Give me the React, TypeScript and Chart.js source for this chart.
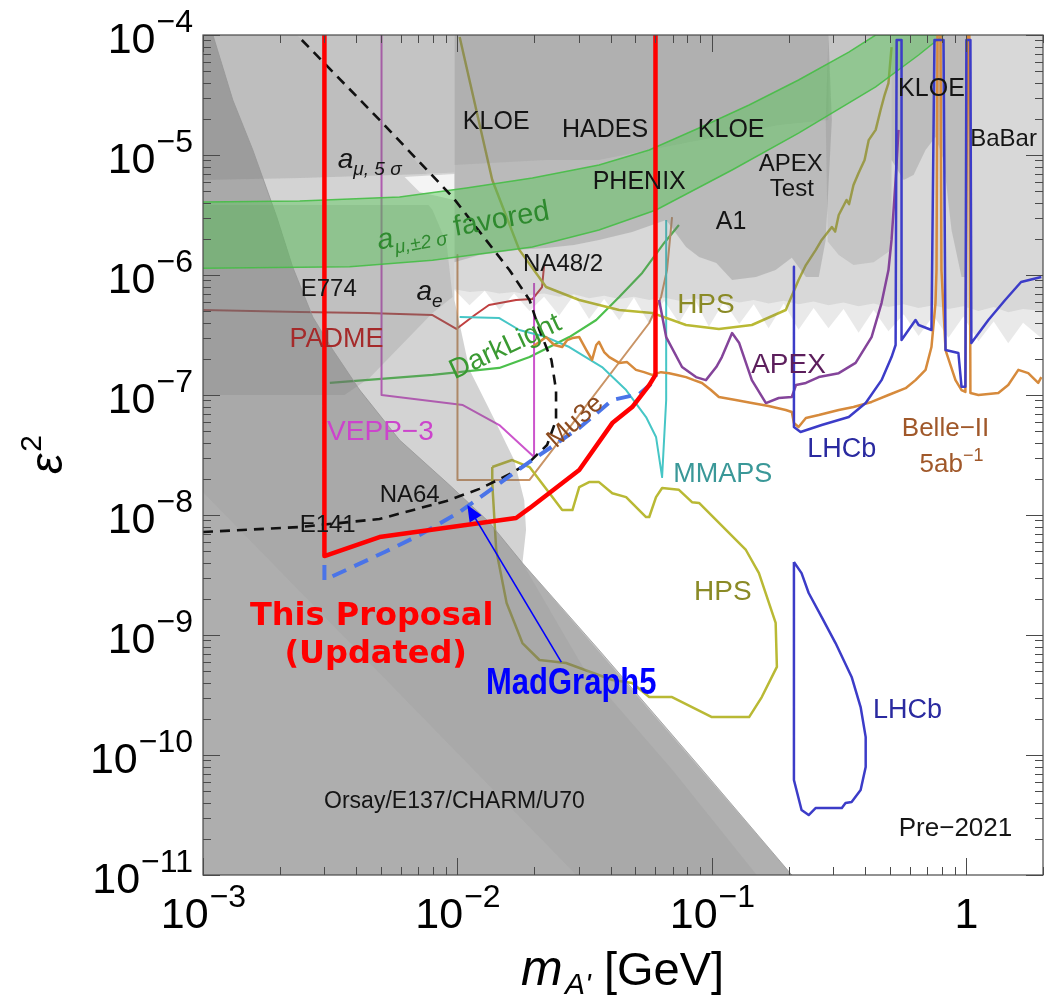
import React, { useEffect, useRef } from "react";
import { Chart, registerables } from "chart.js";

Chart.register(...registerables);

const FONT = '"Liberation Sans", Arial, Helvetica, sans-serif';

// ---------------- axis ----------------
const xMin = 1e-3;
const xMax = 2.0;
const yMin = 1e-11;
const yMax = 1e-4;
const xTickValues = [1e-3, 1e-2, 1e-1, 1];
const xTickBase = ["10", "10", "10", "1"];
const xTickExp = ["\u22123", "\u22122", "\u22121", ""];
const yTickValues = [1e-4, 1e-5, 1e-6, 1e-7, 1e-8, 1e-9, 1e-10, 1e-11];
const yTickExp = ["\u22124", "\u22125", "\u22126", "\u22127", "\u22128", "\u22129", "\u221210", "\u221211"];

// ---------------- projections (curves) ----------------
const proposalMass = [3.0e-3, 3.0e-3, 4.94e-3, 1.70e-2, 1.92e-2, 3.01e-2, 4.06e-2, 4.86e-2, 5.67e-2, 6.0e-2, 6.0e-2];
const proposalEps2 = [1e-4, 4.55e-9, 6.55e-9, 9.44e-9, 1.14e-8, 2.37e-8, 5.83e-8, 7.94e-8, 1.21e-7, 1.47e-7, 1e-4];

const madgraphMass = [3.0e-3, 3.0e-3, 5.18e-3, 7.10e-3, 1.02e-2, 1.92e-2, 3.01e-2, 4.06e-2, 5.18e-2, 6.0e-2, 6.0e-2];
const madgraphEps2 = [3.83e-9, 2.87e-9, 4.92e-9, 6.81e-9, 1.06e-8, 2.77e-8, 5.31e-8, 9.09e-8, 1.02e-7, 1.33e-7, 1.47e-7];

const amuNa64Mass = [1e-3, 2.40e-3, 4.94e-3, 9.06e-3, 1.22e-2, 1.64e-2, 1.92e-2, 2.25e-2, 2.44e-2, 2.44e-2, 2.34e-2, 2.10e-2, 1.92e-2, 1.60e-2, 9.57e-3, 4.94e-3, 2.34e-3];
const amuNa64Eps2 = [7.22e-9, 7.94e-9, 9.26e-9, 1.31e-8, 1.65e-8, 2.24e-8, 2.77e-8, 3.83e-8, 6.19e-8, 1.10e-7, 1.96e-7, 3.48e-7, 6.19e-7, 1.10e-6, 4.47e-6, 1.96e-5, 1e-4];

const padmeMass = [1e-3, 2.40e-3, 4.40e-3, 7.98e-3, 9.9e-3, 1.17e-2, 1.33e-2, 1.70e-2, 1.97e-2, 2.15e-2, 2.19e-2];
const padmeEps2 = [5.11e-7, 4.92e-7, 4.83e-7, 4.64e-7, 3.55e-7, 4.64e-7, 5.62e-7, 6.19e-7, 6.3e-7, 7.94e-7, 1.21e-6];

const darkLightMass = [3.15e-3, 7.98e-3, 1.46e-2, 1.92e-2, 2.75e-2, 3.51e-2, 4.32e-2, 5.32e-2, 6.49e-2, 7.42e-2];
const darkLightEps2 = [1.26e-7, 1.47e-7, 1.68e-7, 2.07e-7, 3.04e-7, 4.22e-7, 6.55e-7, 1.04e-6, 1.85e-6, 2.61e-6];

const vepp3Mass = [5.03e-3, 5.03e-3, 1.05e-2, 1.46e-2, 2.0e-2, 2.0e-2];
const vepp3Eps2 = [1e-4, 1e-7, 8.25e-8, 5.62e-8, 3.04e-8, 8.57e-7];

const mu3eMass = [1e-2, 1e-2, 1.92e-2, 5.67e-2, 6.31e-2, 6.66e-2, 6.97e-2];
const mu3eEps2 = [1.47e-6, 1.96e-8, 1.96e-8, 3.98e-7, 6.55e-7, 1.10e-6, 3.04e-6];

const mmapsMass = [1.02e-2, 1.46e-2, 1.75e-2, 2.23e-2, 2.75e-2, 3.70e-2, 4.60e-2, 5.51e-2, 6.03e-2, 6.37e-2, 6.61e-2, 6.61e-2];
const mmapsEps2 = [4.47e-7, 4.38e-7, 3.48e-7, 3.04e-7, 2.51e-7, 1.71e-7, 1.10e-7, 6.55e-8, 4.47e-8, 2.07e-8, 9.09e-8, 2.87e-6];

const hpsUpperMass = [1.02e-2, 1.37e-2, 1.75e-2, 2.23e-2, 3.01e-2, 4.32e-2, 5.82e-2, 7.91e-2, 1.065e-1, 1.435e-1, 1.95e-1, 2.19e-1, 2.34e-1, 2.56e-1, 2.70e-1, 2.96e-1, 3.05e-1, 3.15e-1, 3.38e-1, 3.46e-1, 3.60e-1, 3.77e-1, 3.98e-1, 4.13e-1, 4.40e-1, 4.60e-1, 4.77e-1, 4.94e-1, 5.08e-1];
const hpsUpperEps2 = [9.62e-5, 6.19e-6, 1.62e-6, 7.94e-7, 6.19e-7, 5.11e-7, 4.83e-7, 3.83e-7, 3.55e-7, 3.83e-7, 5.11e-7, 9.09e-7, 1.21e-6, 1.62e-6, 1.96e-6, 2.51e-6, 2.30e-6, 3.16e-6, 4.22e-6, 3.90e-6, 5.62e-6, 7.08e-6, 9.09e-6, 1.33e-5, 1.62e-5, 2.37e-5, 3.16e-5, 3.98e-5, 7.94e-5];

const hpsLowerMass = [1.37e-2, 1.64e-2, 1.92e-2, 2.36e-2, 2.58e-2, 2.83e-2, 3.01e-2, 3.29e-2, 3.60e-2, 4.06e-2, 4.60e-2, 5.51e-2, 5.67e-2, 6.03e-2, 6.37e-2, 7.42e-2, 8.35e-2, 8.9e-2, 1.36e-1, 1.53e-1, 1.78e-1, 1.80e-1, 1.57e-1, 1.40e-1, 1.0e-1, 8.35e-2, 6.97e-2, 5.67e-2, 4.86e-2, 4.06e-2, 2.67e-2, 2.10e-2, 1.80e-2, 1.56e-2, 1.42e-2, 1.37e-2, 1.37e-2];
const hpsLowerEps2 = [2.51e-8, 2.87e-8, 2.51e-8, 1.41e-8, 1.10e-8, 1.10e-8, 1.71e-8, 1.88e-8, 1.88e-8, 1.52e-8, 1.41e-8, 9.62e-9, 9.62e-9, 1.41e-8, 1.68e-8, 1.62e-8, 1.28e-8, 1.26e-8, 5.11e-9, 3.28e-9, 1.26e-9, 5.42e-10, 3.04e-10, 2.07e-10, 2.07e-10, 2.51e-10, 3.04e-10, 3.04e-10, 3.98e-10, 4.22e-10, 5.84e-10, 6.19e-10, 8.57e-10, 1.85e-9, 5.11e-9, 1.85e-8, 2.51e-8];

const apexMass = [6.20e-2, 6.61e-2, 7.63e-2, 8.66e-2, 9.47e-2, 1.04e-1, 1.094e-1, 1.20e-1, 1.28e-1, 1.435e-1, 1.63e-1, 1.83e-1, 2.06e-1, 2.14e-1, 2.34e-1, 2.63e-1, 3.15e-1, 3.67e-1, 4.24e-1, 4.64e-1, 4.94e-1, 5.08e-1, 5.27e-1, 5.41e-1];
const apexEps2 = [6.19e-7, 3.04e-7, 1.71e-7, 1.41e-7, 1.33e-7, 1.71e-7, 2.07e-7, 3.28e-7, 2.71e-7, 1.33e-7, 8.57e-8, 9.44e-8, 9.62e-8, 1.21e-7, 1.26e-7, 1.41e-7, 1.52e-7, 1.85e-7, 3.04e-7, 5.84e-7, 1.10e-6, 1.96e-6, 6.19e-6, 1.62e-5];

const belleMass = [1.97e-2, 2.23e-2, 2.40e-2, 2.58e-2, 2.70e-2, 2.83e-2, 3.01e-2, 3.21e-2, 3.38e-2, 3.51e-2, 3.60e-2, 3.77e-2, 3.95e-2, 4.32e-2, 4.64e-2, 5.03e-2, 5.41e-2, 5.82e-2, 6.31e-2, 6.79e-2, 7.29e-2, 7.91e-2, 8.50e-2, 9.14e-2, 9.91e-2, 1.065e-1, 1.24e-1, 1.435e-1, 1.67e-1, 1.95e-1, 2.06e-1, 2.10e-1, 2.19e-1, 2.34e-1, 2.63e-1, 3.15e-1, 3.60e-1, 4.24e-1, 4.94e-1, 5.77e-1, 6.31e-1, 6.91e-1, 7.29e-1, 7.56e-1, 7.63e-1, 7.70e-1, 7.91e-1, 7.98e-1, 8.28e-1, 9.06e-1, 9.57e-1, 9.91e-1, 1.009, 1.027, 1.037, 1.115, 1.335, 1.46, 1.60, 1.75, 1.915, 1.97];
const belleEps2 = [2.51e-7, 3.04e-7, 2.61e-7, 2.51e-7, 2.87e-7, 2.98e-7, 3.04e-7, 2.37e-7, 1.96e-7, 2.61e-7, 2.77e-7, 2.28e-7, 2.07e-7, 1.85e-7, 1.88e-7, 1.62e-7, 1.55e-7, 1.47e-7, 1.55e-7, 1.52e-7, 1.47e-7, 1.41e-7, 1.33e-7, 1.26e-7, 1.10e-7, 9.62e-8, 9.09e-8, 8.57e-8, 8.09e-8, 7.50e-8, 7.22e-8, 5.84e-8, 5.42e-8, 6.44e-8, 6.81e-8, 7.50e-8, 7.94e-8, 8.75e-8, 1e-7, 1.14e-7, 1.33e-7, 1.62e-7, 2.51e-7, 5.84e-7, 1.10e-6, 1e-4, 1e-4, 1.10e-6, 2.37e-7, 1.33e-7, 1.10e-7, 1.06e-7, 1e-4, 1e-4, 1.04e-7, 1e-7, 1.04e-7, 1.21e-7, 1.62e-7, 1.52e-7, 1.26e-7, 1.41e-7];

const lhcbPromptMass = [2.10e-1, 2.10e-1, 2.23e-1, 2.70e-1, 3.45e-1, 4.02e-1, 4.64e-1, 5.08e-1, 5.27e-1, 5.32e-1, 5.56e-1, 5.56e-1, 6.31e-1, 6.49e-1, 7.29e-1, 7.49e-1, 8.13e-1, 8.28e-1, 9.30e-1, 9.57e-1, 9.91e-1, 1.0, 1.037, 1.046, 1.22, 1.42, 1.64, 1.97];
const lhcbPromptEps2 = [1.17e-6, 5.42e-8, 4.92e-8, 5.62e-8, 6.55e-8, 8.57e-8, 1.33e-7, 2.07e-7, 2.61e-7, 9.09e-5, 9.09e-5, 2.87e-7, 4.22e-7, 3.83e-7, 3.48e-7, 9.09e-5, 9.09e-5, 2.37e-7, 2.24e-7, 1.17e-7, 1.17e-7, 9.09e-5, 9.09e-5, 2.71e-7, 4.22e-7, 6.19e-7, 8.75e-7, 9.62e-7];

const lhcbDisplacedMass = [2.10e-1, 2.25e-1, 2.40e-1, 2.70e-1, 3.06e-1, 3.54e-1, 3.84e-1, 4.02e-1, 4.02e-1, 3.84e-1, 3.54e-1, 3.35e-1, 3.24e-1, 2.56e-1, 2.40e-1, 2.25e-1, 2.10e-1, 2.10e-1];
const lhcbDisplacedEps2 = [4.06e-9, 3.28e-9, 2.24e-9, 1.41e-9, 8.57e-10, 4.47e-10, 2.51e-10, 1.41e-10, 7.94e-11, 5.11e-11, 4.06e-11, 3.98e-11, 3.62e-11, 3.62e-11, 3.16e-11, 3.48e-11, 6.19e-11, 4.06e-9];

// a_mu +-2 sigma favoured band
const amuBandUpperMass = [1e-3, 2.40e-3, 5.92e-3, 1.085e-2, 1.97e-2, 3.60e-2, 5.67e-2, 8.9e-2, 1.40e-1, 2.19e-1, 3.45e-1, 4.40e-1];
const amuBandUpperEps2 = [4.06e-6, 4.14e-6, 4.47e-6, 5.31e-6, 6.44e-6, 8.25e-6, 1.10e-5, 1.68e-5, 2.61e-5, 4.22e-5, 7.2e-5, 1e-4];
const amuBandLowerMass = [8.13e-1, 6.49e-1, 4.40e-1, 2.19e-1, 1.20e-1, 6.03e-2, 3.60e-2, 1.97e-2, 7.98e-3, 3.77e-3, 1e-3];
const amuBandLowerEps2 = [1e-4, 6.81e-5, 3.69e-5, 1.52e-5, 7.5e-6, 3.48e-6, 2.37e-6, 1.71e-6, 1.33e-6, 1.17e-6, 1.14e-6];

// ---------------- excluded regions (gray) ----------------
const lightLeftMass = [1e-3, 9.73e-3, 9.73e-3, 6.2e-3, 7.10e-3, 9.73e-3, 9.73e-3, 1.115e-2, 1.40e-2, 1.67e-2, 1.83e-2, 1.86e-2, 1.80e-2, 2.06e-1, 1e-3];
const lightLeftEps2 = [1e-4, 1e-4, 6.94e-6, 6.55e-6, 4.92e-6, 4.22e-6, 6.19e-7, 1.62e-7, 6.19e-8, 2.87e-8, 1.33e-8, 7.5e-9, 3.98e-9, 1e-11, 1e-11];

const pocketMass = [6.2e-3, 9.73e-3, 9.73e-3, 7.10e-3];
const pocketEps2 = [6.55e-6, 6.94e-6, 4.22e-6, 4.92e-6];

const amu5Mass = [1e-3, 9.73e-3, 9.73e-3, 7.10e-3, 2.40e-3, 1e-3];
const amu5Eps2 = [1e-4, 1e-4, 7.15e-6, 6.94e-6, 6.44e-6, 6.19e-6];

const amu5LeftMass = [1e-3, 2.34e-3, 4.94e-3, 7.6e-3, 2.40e-3, 1e-3];
const amu5LeftEps2 = [1e-4, 1e-4, 1.96e-5, 6.9e-6, 6.44e-6, 6.19e-6];

const aeE774Mass = [1e-3, 7.70e-3, 7.98e-3, 9.06e-3, 9.57e-3, 7.98e-3, 5.92e-3, 4.52e-3, 3.60e-3, 1e-3];
const aeE774Eps2 = [3.83e-6, 3.83e-6, 3.48e-6, 1.85e-6, 6.55e-7, 4.83e-7, 2.51e-7, 1.39e-7, 1e-7, 1e-7];

const beamDumpMass = [1e-3, 1e-3, 1.094e-3, 1.31e-3, 1.57e-3, 1.95e-3, 2.25e-3, 2.70e-3, 3.24e-3, 4.13e-3, 5.92e-3, 9.30e-3, 1.33e-2, 1.80e-2, 3.60e-2, 8.9e-2, 2.06e-1];
const beamDumpEps2 = [1e-11, 1e-4, 1e-4, 2.87e-5, 1.10e-5, 3.04e-6, 1.17e-6, 4.47e-7, 2.37e-7, 1.10e-7, 4.22e-8, 1.78e-8, 8.75e-9, 3.98e-9, 7.5e-10, 8.09e-11, 1e-11];

const beamDumpInnerMass = [1e-3, 2.93e-2, 1e-3];
const beamDumpInnerEps2 = [1.55e-8, 1e-11, 1e-11];

const beamDumpEdgeMass = [1.80e-2, 3.60e-2, 8.9e-2, 2.06e-1, 1.50e-1, 7.0e-2, 3.1e-2];
const beamDumpEdgeEps2 = [3.98e-9, 7.5e-10, 8.09e-11, 1e-11, 1e-11, 7.5e-11, 5.5e-10];

const resonanceTopMass = [9.73e-3, 2.0];
const resonanceTopEps2 = [1e-4, 1e-4];
const resonanceEdgeMass = [9.73e-3, 1.115e-2, 1.28e-2, 1.46e-2, 1.67e-2, 1.92e-2, 2.19e-2, 2.51e-2, 2.87e-2, 3.29e-2, 3.77e-2, 4.32e-2, 4.94e-2, 5.67e-2, 6.49e-2, 7.42e-2, 8.50e-2, 9.73e-2, 1.115e-1, 1.28e-1, 1.46e-1, 1.67e-1, 1.915e-1, 2.19e-1, 2.51e-1, 2.87e-1, 3.29e-1, 3.77e-1, 4.32e-1, 4.94e-1, 5.67e-1, 6.49e-1, 7.42e-1, 8.50e-1, 9.73e-1, 1.115, 1.28, 1.46, 1.67, 2.0];
const resonanceSpikeEps2 = [7.5e-7, 5.6e-7, 7.4e-7, 5.1e-7, 7.0e-7, 5.0e-7, 6.6e-7, 4.6e-7, 6.8e-7, 4.3e-7, 6.3e-7, 4.2e-7, 6.5e-7, 3.9e-7, 6.1e-7, 4.0e-7, 6.4e-7, 3.7e-7, 6.0e-7, 3.9e-7, 5.7e-7, 3.6e-7, 5.8e-7, 3.5e-7, 5.3e-7, 3.6e-7, 5.2e-7, 3.3e-7, 5.1e-7, 3.4e-7, 4.7e-7, 3.1e-7, 4.6e-7, 3.0e-7, 4.5e-7, 2.8e-7, 4.1e-7, 2.7e-7, 4.0e-7, 2.9e-7];
const resonanceCoreEps2 = [7.6e-7, 7.2e-7, 7.4e-7, 7.0e-7, 7.2e-7, 6.8e-7, 7.0e-7, 6.6e-7, 6.9e-7, 6.4e-7, 6.7e-7, 6.3e-7, 6.6e-7, 6.2e-7, 6.5e-7, 6.1e-7, 6.4e-7, 6.0e-7, 6.3e-7, 5.9e-7, 6.2e-7, 5.8e-7, 6.1e-7, 5.7e-7, 6.0e-7, 5.6e-7, 5.9e-7, 5.5e-7, 5.8e-7, 5.4e-7, 5.7e-7, 5.3e-7, 5.6e-7, 5.2e-7, 5.5e-7, 5.0e-7, 5.4e-7, 4.9e-7, 5.2e-7, 5.0e-7];

const a1Na48Mass = [9.73e-3, 2.87e-1, 2.96e-1, 2.80e-1, 2.63e-1, 2.34e-1, 2.06e-1, 1.78e-1, 1.49e-1, 1.20e-1, 1.04e-1, 8.9e-2, 7.91e-2, 6.61e-2, 4.86e-2, 3.60e-2, 2.87e-2, 2.23e-2, 1.75e-2, 1.22e-2, 9.73e-3];
const a1Na48Eps2 = [1e-4, 1e-4, 1.96e-5, 1.96e-6, 9.62e-7, 9.62e-7, 1.39e-6, 1.10e-6, 9.62e-7, 9.09e-7, 1.26e-6, 1.41e-6, 1.71e-6, 2.87e-6, 2.28e-6, 1.96e-6, 1.78e-6, 1.68e-6, 1.62e-6, 1.47e-6, 1.28e-6];

const kloeHadesMass = [9.73e-3, 2.87e-1, 2.87e-1, 1.83e-1, 8.9e-2, 5.67e-2, 3.60e-2, 2.23e-2, 9.73e-3];
const kloeHadesEps2 = [1e-4, 1e-4, 1.96e-5, 1.78e-5, 1.33e-5, 1.10e-5, 9.09e-6, 9.09e-6, 8.25e-6];

const babarLowMass = [2.87e-1, 5.08e-1, 5.08e-1, 4.32e-1, 3.60e-1, 3.15e-1, 2.85e-1, 2.80e-1];
const babarLowEps2 = [1e-4, 1e-4, 1.62e-6, 1.28e-6, 1.21e-6, 1.47e-6, 1.9e-6, 1.96e-5];

const kloeHighMass = [5.08e-1, 5.08e-1, 5.67e-1, 6.20e-1, 6.91e-1, 7.56e-1, 8.13e-1, 8.74e-1, 9.57e-1, 1.0, 1.0];
const kloeHighEps2 = [1e-4, 9.09e-6, 6.19e-6, 6.81e-6, 1.10e-5, 1.41e-5, 9.09e-6, 2.37e-6, 9.62e-7, 9.62e-7, 1e-4];

// ---------------- labels (text at data positions) ----------------
type Part = { t: string; size: number; italic?: boolean; bold?: boolean; dy?: number };
type Ann = { m: number; e: number; parts: Part[]; color: string; rot?: number; family?: string; sy?: number };

const BLACK = "#151515";
const OLIVE_T = "#8a8a26";
const labels: Ann[] = [
  { m: 1.42e-2, e: 1.96e-5, parts: [{ t: "KLOE", size: 25 }], color: BLACK },
  { m: 3.80e-2, e: 1.68e-5, parts: [{ t: "HADES", size: 25 }], color: BLACK },
  { m: 1.19e-1, e: 1.68e-5, parts: [{ t: "KLOE", size: 25 }], color: BLACK },
  { m: 5.18e-2, e: 6.19e-6, parts: [{ t: "PHENIX", size: 25 }], color: BLACK },
  { m: 2.04e-1, e: 8.75e-6, parts: [{ t: "APEX", size: 24 }], color: BLACK },
  { m: 2.06e-1, e: 5.42e-6, parts: [{ t: "Test", size: 24 }], color: BLACK },
  { m: 1.19e-1, e: 2.87e-6, parts: [{ t: "A1", size: 25 }], color: BLACK },
  { m: 7.29e-1, e: 3.69e-5, parts: [{ t: "KLOE", size: 25 }], color: BLACK },
  { m: 1.40, e: 1.41e-5, parts: [{ t: "BaBar", size: 24 }], color: BLACK },
  { m: 4.52e-3, e: 9.44e-6, parts: [{ t: "a", size: 28, italic: true }, { t: "\u03bc, 5 \u03c3", size: 19, italic: true, dy: 7 }], color: BLACK },
  { m: 1.05e-2, e: 2.66e-6, rot: -10, parts: [{ t: "a", size: 29, italic: true }, { t: "\u03bc,\u00b12 \u03c3", size: 19, italic: true, dy: 7 }, { t: " favored", size: 29 }], color: "#2f8a2f" },
  { m: 2.60e-2, e: 1.28e-6, parts: [{ t: "NA48/2", size: 24 }], color: BLACK },
  { m: 3.12e-3, e: 7.94e-7, parts: [{ t: "E774", size: 24 }], color: BLACK },
  { m: 7.77e-3, e: 7.5e-7, parts: [{ t: "a", size: 28, italic: true }, { t: "e", size: 19, italic: true, dy: 7 }], color: BLACK },
  { m: 9.47e-2, e: 5.84e-7, parts: [{ t: "HPS", size: 28 }], color: OLIVE_T },
  { m: 3.35e-3, e: 3.04e-7, parts: [{ t: "PADME", size: 27 }], color: "#a52a2a" },
  { m: 1.53e-2, e: 2.61e-7, rot: -25, parts: [{ t: "DarkLight", size: 28 }], color: "#3a9a32" },
  { m: 2.0e-1, e: 1.85e-7, parts: [{ t: "APEX", size: 28 }], color: "#5c1e5c" },
  { m: 4.98e-3, e: 5.11e-8, parts: [{ t: "VEPP\u22123", size: 28 }], color: "#cc44cc" },
  { m: 2.87e-2, e: 6.19e-8, rot: -42, parts: [{ t: "Mu3e", size: 26 }], color: "#8b4a1e" },
  { m: 3.24e-1, e: 3.69e-8, parts: [{ t: "LHCb", size: 27 }], color: "#2a2aa0" },
  { m: 8.28e-1, e: 5.42e-8, parts: [{ t: "Belle\u2212II", size: 26 }], color: "#a0582a" },
  { m: 8.74e-1, e: 2.71e-8, parts: [{ t: "5ab", size: 26 }, { t: "\u22121", size: 18, dy: -11 }], color: "#a0582a" },
  { m: 1.104e-1, e: 2.28e-8, parts: [{ t: "MMAPS", size: 27 }], color: "#3a9898" },
  { m: 6.49e-3, e: 1.52e-8, parts: [{ t: "NA64", size: 24 }], color: BLACK },
  { m: 3.09e-3, e: 8.57e-9, parts: [{ t: "E141", size: 24 }], color: BLACK },
  { m: 1.104e-1, e: 2.37e-9, parts: [{ t: "HPS", size: 28 }], color: OLIVE_T },
  { m: 5.87e-1, e: 2.46e-10, parts: [{ t: "LHCb", size: 27 }], color: "#2a2aa0" },
  { m: 4.60e-3, e: 1.52e-9, family: '"DejaVu Sans", sans-serif', parts: [{ t: "This Proposal", size: 32, bold: true }], color: "#ff0000" },
  { m: 4.77e-3, e: 7.22e-10, family: '"DejaVu Sans", sans-serif', parts: [{ t: "(Updated)", size: 32, bold: true }], color: "#ff0000" },
  { m: 2.80e-2, e: 4.22e-10, sy: 1.22, parts: [{ t: "MadGraph5", size: 31, bold: true }], color: "#0000ff" },
  { m: 9.73e-3, e: 4.22e-11, parts: [{ t: "Orsay/E137/CHARM/U70", size: 23 }], color: BLACK },
  { m: 9.06e-1, e: 2.51e-11, parts: [{ t: "Pre\u22122021", size: 26 }], color: BLACK },
];

// MadGraph5 arrow (tail -> head), data coordinates
const arrowMass = [2.56e-2, 1.094e-2];
const arrowEps2 = [5.95e-10, 1.21e-8];

// ---------------- helpers ----------------
const pts = (m: number[], e: number[]) => m.map((x, i) => ({ x, y: e[i] }));
const gray = (a: number) => `rgba(110,110,110,${a})`;

function lineLayer(m: number[], e: number[], color: string, width: number, dash: number[] = []) {
  return {
    data: pts(m, e),
    showLine: true,
    borderColor: color,
    borderWidth: width,
    borderDash: dash,
    borderJoinStyle: "round",
    pointRadius: 0,
    pointHoverRadius: 0,
    fill: false,
    tension: 0,
  };
}
function fillLayer(m: number[], e: number[], color: string, border = "rgba(0,0,0,0)", bw = 0) {
  return {
    data: pts(m, e),
    showLine: true,
    borderColor: border,
    borderWidth: bw,
    pointRadius: 0,
    pointHoverRadius: 0,
    fill: "shape",
    backgroundColor: color,
    tension: 0,
  };
}

function fontOf(p: Part, family?: string) {
  return `${p.italic ? "italic " : ""}${p.bold ? "bold " : ""}${p.size}px ${family || FONT}`;
}

function drawParts(ctx: CanvasRenderingContext2D, a: Ann, cx: number, cy: number) {
  ctx.save();
  ctx.translate(cx, cy);
  if (a.rot) ctx.rotate((a.rot * Math.PI) / 180);
  if (a.sy) ctx.scale(1, a.sy);
  ctx.fillStyle = a.color;
  ctx.textAlign = "left";
  ctx.textBaseline = "alphabetic";
  const widths = a.parts.map((p) => {
    ctx.font = fontOf(p, a.family);
    return ctx.measureText(p.t).width;
  });
  const total = widths.reduce((s, w) => s + w, 0);
  const base = a.parts[0].size * 0.36;
  let x = -total / 2;
  a.parts.forEach((p, i) => {
    ctx.font = fontOf(p, a.family);
    ctx.fillText(p.t, x, base + (p.dy || 0));
    x += widths[i];
  });
  ctx.restore();
}

const decor = {
  id: "decor",
  afterDraw(chart: any) {
    const ctx: CanvasRenderingContext2D = chart.ctx;
    const area = chart.chartArea;
    const xs = chart.scales.x;
    const ys = chart.scales.y;

    labels.forEach((a) => drawParts(ctx, a, xs.getPixelForValue(a.m), ys.getPixelForValue(a.e)));

    // arrow
    const x0 = xs.getPixelForValue(arrowMass[0]);
    const y0 = ys.getPixelForValue(arrowEps2[0]);
    const x1 = xs.getPixelForValue(arrowMass[1]);
    const y1 = ys.getPixelForValue(arrowEps2[1]);
    const ang = Math.atan2(y1 - y0, x1 - x0);
    ctx.save();
    ctx.strokeStyle = "#0000ff";
    ctx.fillStyle = "#0000ff";
    ctx.lineWidth = 1.6;
    ctx.beginPath();
    ctx.moveTo(x0, y0);
    ctx.lineTo(x1 - 10 * Math.cos(ang), y1 - 10 * Math.sin(ang));
    ctx.stroke();
    ctx.beginPath();
    ctx.moveTo(x1, y1);
    ctx.lineTo(x1 - 16 * Math.cos(ang) + 7 * Math.sin(ang), y1 - 16 * Math.sin(ang) - 7 * Math.cos(ang));
    ctx.lineTo(x1 - 16 * Math.cos(ang) - 7 * Math.sin(ang), y1 - 16 * Math.sin(ang) + 7 * Math.cos(ang));
    ctx.closePath();
    ctx.fill();
    ctx.restore();

    // frame & inner ticks
    ctx.save();
    ctx.strokeStyle = "#4a4a4a";
    ctx.lineWidth = 1.2;
    ctx.strokeRect(area.left, area.top, area.right - area.left, area.bottom - area.top);
    ctx.lineWidth = 1;
    ctx.beginPath();
    for (let d = -3; d <= 0; d++) {
      for (let k = 1; k <= 9; k++) {
        const v = k * Math.pow(10, d);
        if (v < xMin * 0.999 || v > xMax) continue;
        const px = Math.round(xs.getPixelForValue(v)) + 0.5;
        const len = k === 1 ? 17 : 8;
        ctx.moveTo(px, area.bottom);
        ctx.lineTo(px, area.bottom - len);
        ctx.moveTo(px, area.top);
        ctx.lineTo(px, area.top + len);
      }
    }
    for (let d = -11; d <= -4; d++) {
      for (let k = 1; k <= 9; k++) {
        const v = k * Math.pow(10, d);
        if (v > yMax * 1.001) continue;
        const py = Math.round(ys.getPixelForValue(v)) + 0.5;
        const len = k === 1 ? 17 : 8;
        ctx.moveTo(area.left, py);
        ctx.lineTo(area.left + len, py);
        ctx.moveTo(area.right, py);
        ctx.lineTo(area.right - len, py);
      }
    }
    ctx.stroke();
    ctx.restore();

    // tick labels
    ctx.save();
    ctx.fillStyle = "#000";
    ctx.textBaseline = "alphabetic";
    const baseFont = `43px ${FONT}`;
    const supFont = `32px ${FONT}`;
    xTickValues.forEach((v, i) => {
      const px = xs.getPixelForValue(v);
      ctx.font = baseFont;
      const wb = ctx.measureText(xTickBase[i]).width;
      ctx.font = supFont;
      const ws = xTickExp[i] ? ctx.measureText(xTickExp[i]).width : 0;
      const start = px - (wb + ws) / 2;
      ctx.textAlign = "left";
      ctx.font = baseFont;
      ctx.fillText(xTickBase[i], start, area.bottom + 53);
      if (xTickExp[i]) {
        ctx.font = supFont;
        ctx.fillText(xTickExp[i], start + wb + 1, area.bottom + 32);
      }
    });
    yTickValues.forEach((v, i) => {
      const py = ys.getPixelForValue(v);
      const right = area.left - 10;
      ctx.font = supFont;
      const ws = ctx.measureText(yTickExp[i]).width;
      ctx.textAlign = "right";
      ctx.fillText(yTickExp[i], right, py - 3);
      ctx.font = baseFont;
      ctx.fillText("10", right - ws - 1, py + 18);
    });

    // axis titles
    ctx.textAlign = "left";
    ctx.font = `italic 50px ${FONT}`;
    ctx.fillText("m", 521, 985);
    ctx.font = `italic 30px ${FONT}`;
    ctx.fillText("A'", 565, 994);
    ctx.font = `47px ${FONT}`;
    ctx.fillText("[GeV]", 604, 985);

    ctx.translate(62, 474);
    ctx.rotate(-Math.PI / 2);
    ctx.font = `italic 46px ${FONT}`;
    ctx.fillText("\u03b5", 0, 0);
    const we = ctx.measureText("\u03b5").width;
    ctx.font = `30px ${FONT}`;
    ctx.fillText("2", we + 2, -21);
    ctx.restore();
  },
};

export default function App() {
  const ref = useRef<HTMLCanvasElement>(null);

  useEffect(() => {
    const canvas = ref.current;
    if (!canvas) return;

    const resonanceSpikeShape = [
      resonanceTopMass.concat(resonanceEdgeMass.slice().reverse()),
      resonanceTopEps2.concat(resonanceSpikeEps2.slice().reverse()),
    ];
    const resonanceCoreShape = [
      resonanceTopMass.concat(resonanceEdgeMass.slice().reverse()),
      resonanceTopEps2.concat(resonanceCoreEps2.slice().reverse()),
    ];

    // bottom -> top
    const layers: any[] = [
      lineLayer(padmeMass, padmeEps2, "#c04040", 2),
      lineLayer(darkLightMass, darkLightEps2, "#4cc04c", 2.2),
      lineLayer(vepp3Mass, vepp3Eps2, "#cc55cc", 2),
      lineLayer(mu3eMass, mu3eEps2, "#c99466", 2),
      lineLayer(mmapsMass, mmapsEps2, "#46c6c6", 2),
      lineLayer(hpsUpperMass, hpsUpperEps2, "#b9b934", 2.5),
      lineLayer(hpsLowerMass, hpsLowerEps2, "#b9b934", 2.5),

      fillLayer(lightLeftMass, lightLeftEps2, gray(0.3)),
      fillLayer(pocketMass, pocketEps2, gray(0.08)),
      fillLayer(amu5Mass, amu5Eps2, gray(0.15)),
      fillLayer(amu5LeftMass, amu5LeftEps2, gray(0.08)),
      fillLayer(aeE774Mass, aeE774Eps2, gray(0.19)),
      fillLayer(beamDumpMass, beamDumpEps2, gray(0.41), "rgba(150,150,150,0.8)", 1),
      fillLayer(beamDumpInnerMass, beamDumpInnerEps2, "rgba(255,255,255,0.06)"),
      fillLayer(beamDumpEdgeMass, beamDumpEdgeEps2, "rgba(255,255,255,0.08)"),
      fillLayer(resonanceCoreShape[0], resonanceCoreShape[1], gray(0.14)),
      fillLayer(resonanceSpikeShape[0], resonanceSpikeShape[1], gray(0.15)),
      fillLayer(a1Na48Mass, a1Na48Eps2, gray(0.28)),
      fillLayer(kloeHadesMass, kloeHadesEps2, gray(0.12)),
      fillLayer(babarLowMass, babarLowEps2, gray(0.18)),
      fillLayer(kloeHighMass, kloeHighEps2, gray(0.25)),

      fillLayer(amuBandUpperMass.concat(amuBandLowerMass), amuBandUpperEps2.concat(amuBandLowerEps2), "rgba(85,200,85,0.45)", "rgba(70,190,70,0.9)", 1.5),

      lineLayer(apexMass, apexEps2, "#84449a", 2.5),
      lineLayer(belleMass, belleEps2, "#d68a3c", 2.5),
      lineLayer(lhcbPromptMass, lhcbPromptEps2, "#3c3cc8", 2.5),
      lineLayer(lhcbDisplacedMass, lhcbDisplacedEps2, "#3c3cc8", 2.5),

      lineLayer(amuNa64Mass, amuNa64Eps2, "#111111", 2.6, [10, 7]),
      lineLayer(madgraphMass, madgraphEps2, "#4a74e8", 4, [15, 9]),
      lineLayer(proposalMass, proposalEps2, "#ff0000", 4.5),
    ];
    const datasets = layers.map((d, i) => ({ ...d, order: layers.length - i }));

    const chart = new Chart(canvas, {
      type: "scatter",
      data: { datasets },
      options: {
        animation: false,
        responsive: false,
        maintainAspectRatio: false,
        devicePixelRatio: 1,
        layout: { padding: { left: 203, top: 35, right: 8, bottom: 131 } },
        plugins: { legend: { display: false }, tooltip: { enabled: false } },
        events: [],
        scales: {
          x: { type: "logarithmic", min: xMin, max: xMax, display: false },
          y: { type: "logarithmic", min: yMin, max: yMax, display: false },
        },
      },
      plugins: [decor],
    } as any);

    return () => chart.destroy();
  }, []);

  return (
    <div style={{ position: "absolute", left: 0, top: 0, width: 1051, height: 1006, background: "#ffffff" }}>
      <canvas ref={ref} width={1051} height={1006} style={{ width: 1051, height: 1006, display: "block" }} />
    </div>
  );
}
